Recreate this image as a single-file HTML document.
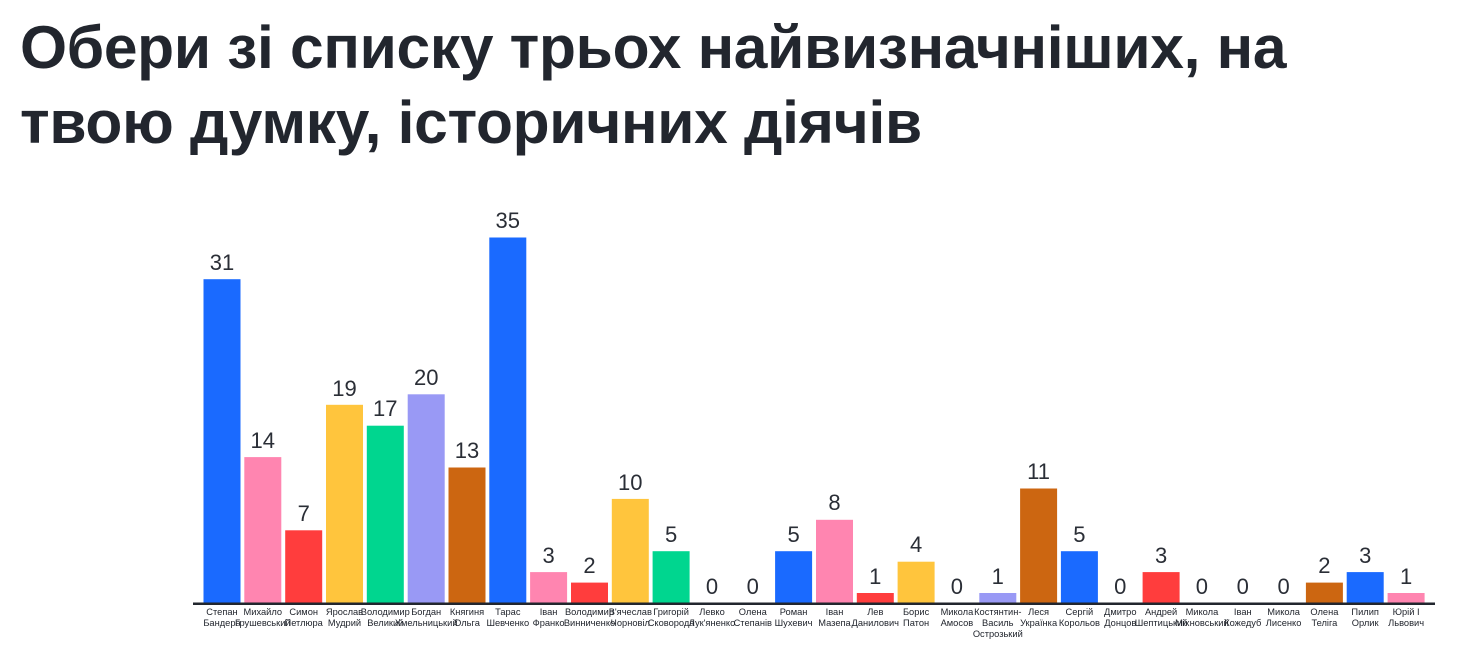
<!DOCTYPE html>
<html><head><meta charset="utf-8"><style>
body{margin:0;background:#fff;width:1467px;height:647px;overflow:hidden;font-family:"Liberation Sans",sans-serif}
h1{position:absolute;left:20px;top:10px;margin:0;font-size:60.5px;line-height:75px;font-weight:bold;color:#22262e;letter-spacing:-0.3px;white-space:nowrap}
svg{position:absolute;left:0;top:0}
.v{font-size:22px;fill:#2a2e36;text-anchor:middle}
.l{font-size:9.3px;fill:#22262e;text-anchor:middle}
</style></head><body>
<h1>Обери зі списку трьох найвизначніших, на<br>твою думку, історичних діячів</h1>
<svg width="1467" height="647">
<g stroke="#fff" stroke-width="1">
<rect x="203" y="278.7" width="38" height="324.3" fill="#1a6aff"/>
<rect x="243.8" y="456.6" width="38" height="146.4" fill="#ff85b0"/>
<rect x="284.7" y="529.8" width="38" height="73.2" fill="#ff3d3d"/>
<rect x="325.5" y="404.3" width="38" height="198.7" fill="#ffc53d"/>
<rect x="366.3" y="425.2" width="38" height="177.8" fill="#00d68f"/>
<rect x="407.2" y="393.8" width="38" height="209.2" fill="#9999f5"/>
<rect x="448" y="467" width="38" height="136" fill="#cc6611"/>
<rect x="488.8" y="237" width="38" height="366" fill="#1a6aff"/>
<rect x="529.6" y="571.6" width="38" height="31.4" fill="#ff85b0"/>
<rect x="570.5" y="582.1" width="38" height="20.9" fill="#ff3d3d"/>
<rect x="611.3" y="498.4" width="38" height="104.6" fill="#ffc53d"/>
<rect x="652.1" y="550.7" width="38" height="52.3" fill="#00d68f"/>
<rect x="774.6" y="550.7" width="38" height="52.3" fill="#1a6aff"/>
<rect x="815.5" y="519.3" width="38" height="83.7" fill="#ff85b0"/>
<rect x="856.3" y="592.5" width="38" height="10.5" fill="#ff3d3d"/>
<rect x="897.1" y="561.2" width="38" height="41.8" fill="#ffc53d"/>
<rect x="978.8" y="592.5" width="38" height="10.5" fill="#9999f5"/>
<rect x="1019.6" y="488" width="38" height="115" fill="#cc6611"/>
<rect x="1060.4" y="550.7" width="38" height="52.3" fill="#1a6aff"/>
<rect x="1142.1" y="571.6" width="38" height="31.4" fill="#ff3d3d"/>
<rect x="1305.4" y="582.1" width="38" height="20.9" fill="#cc6611"/>
<rect x="1346.2" y="571.6" width="38" height="31.4" fill="#1a6aff"/>
<rect x="1387.1" y="592.5" width="38" height="10.5" fill="#ff85b0"/>
</g>
<rect x="193" y="602.5" width="1242" height="2.5" fill="#22262e"/>
<g class="v">
<text x="222" y="270">31</text><text x="262.8" y="448">14</text><text x="303.7" y="521">7</text>
<text x="344.5" y="396">19</text><text x="385.3" y="416">17</text><text x="426.2" y="385">20</text>
<text x="467" y="458">13</text><text x="507.8" y="228">35</text><text x="548.6" y="563">3</text>
<text x="589.5" y="573">2</text><text x="630.3" y="490">10</text><text x="671.1" y="542">5</text>
<text x="712" y="594">0</text><text x="752.8" y="594">0</text><text x="793.6" y="542">5</text>
<text x="834.5" y="510">8</text><text x="875.3" y="584">1</text><text x="916.1" y="552">4</text>
<text x="956.9" y="594">0</text><text x="997.8" y="584">1</text><text x="1038.6" y="479">11</text>
<text x="1079.4" y="542">5</text><text x="1120.3" y="594">0</text><text x="1161.1" y="563">3</text>
<text x="1201.9" y="594">0</text><text x="1242.8" y="594">0</text><text x="1283.6" y="594">0</text>
<text x="1324.4" y="573">2</text><text x="1365.2" y="563">3</text><text x="1406.1" y="584">1</text>
</g>
<g class="l">
<text x="222" y="615">Степан</text><text x="222" y="626">Бандера</text>
<text x="262.8" y="615">Михайло</text><text x="262.8" y="626">Грушевський</text>
<text x="303.7" y="615">Симон</text><text x="303.7" y="626">Петлюра</text>
<text x="344.5" y="615">Ярослав</text><text x="344.5" y="626">Мудрий</text>
<text x="385.3" y="615">Володимир</text><text x="385.3" y="626">Великий</text>
<text x="426.2" y="615">Богдан</text><text x="426.2" y="626">Хмельницький</text>
<text x="467" y="615">Княгиня</text><text x="467" y="626">Ольга</text>
<text x="507.8" y="615">Тарас</text><text x="507.8" y="626">Шевченко</text>
<text x="548.6" y="615">Іван</text><text x="548.6" y="626">Франко</text>
<text x="589.5" y="615">Володимир</text><text x="589.5" y="626">Винниченко</text>
<text x="630.3" y="615">В'ячеслав</text><text x="630.3" y="626">Чорновіл</text>
<text x="671.1" y="615">Григорій</text><text x="671.1" y="626">Сковорода</text>
<text x="712" y="615">Левко</text><text x="712" y="626">Лук'яненко</text>
<text x="752.8" y="615">Олена</text><text x="752.8" y="626">Степанів</text>
<text x="793.6" y="615">Роман</text><text x="793.6" y="626">Шухевич</text>
<text x="834.5" y="615">Іван</text><text x="834.5" y="626">Мазепа</text>
<text x="875.3" y="615">Лев</text><text x="875.3" y="626">Данилович</text>
<text x="916.1" y="615">Борис</text><text x="916.1" y="626">Патон</text>
<text x="956.9" y="615">Микола</text><text x="956.9" y="626">Амосов</text>
<text x="997.8" y="615">Костянтин-</text><text x="997.8" y="626">Василь</text><text x="997.8" y="637">Острозький</text>
<text x="1038.6" y="615">Леся</text><text x="1038.6" y="626">Українка</text>
<text x="1079.4" y="615">Сергій</text><text x="1079.4" y="626">Корольов</text>
<text x="1120.3" y="615">Дмитро</text><text x="1120.3" y="626">Донцов</text>
<text x="1161.1" y="615">Андрей</text><text x="1161.1" y="626">Шептицький</text>
<text x="1201.9" y="615">Микола</text><text x="1201.9" y="626">Міхновський</text>
<text x="1242.8" y="615">Іван</text><text x="1242.8" y="626">Кожедуб</text>
<text x="1283.6" y="615">Микола</text><text x="1283.6" y="626">Лисенко</text>
<text x="1324.4" y="615">Олена</text><text x="1324.4" y="626">Теліга</text>
<text x="1365.2" y="615">Пилип</text><text x="1365.2" y="626">Орлик</text>
<text x="1406.1" y="615">Юрій І</text><text x="1406.1" y="626">Львович</text>
</g>
</svg>
</body></html>
